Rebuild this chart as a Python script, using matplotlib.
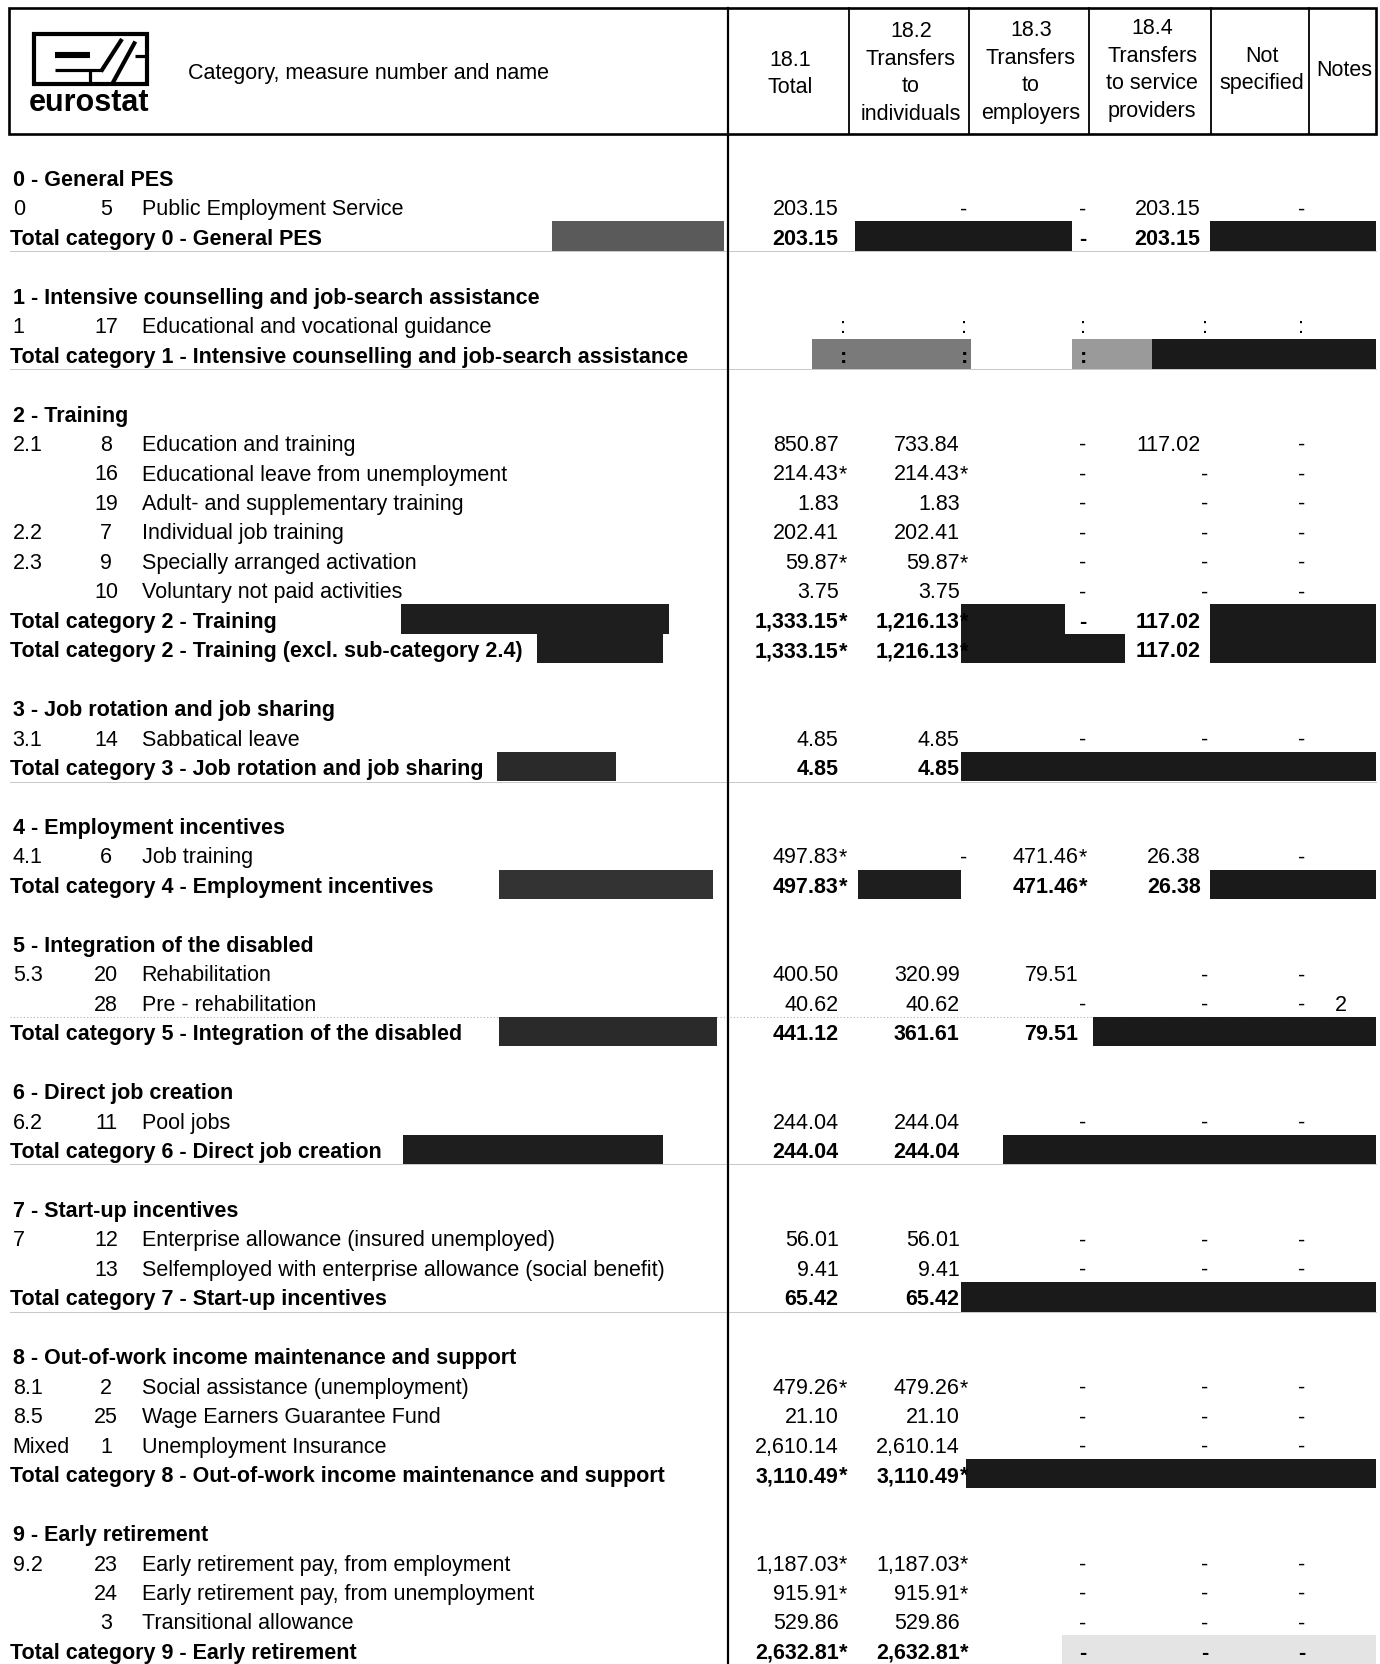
import matplotlib
matplotlib.use("Agg")
import matplotlib.pyplot as plt
from matplotlib.patches import Rectangle

plt.rcParams['font.family'] = ['Liberation Sans', 'DejaVu Sans']

# ---------------- data ----------------
col_headers = [["18.1", "Total"],
               ["18.2", "Transfers", "to", "individuals"],
               ["18.3", "Transfers", "to", "employers"],
               ["18.4", "Transfers", "to service", "providers"],
               ["Not", "specified"],
               ["Notes"]]
header_label = "Category, measure number and name"

labels = [
    "0 - General PES", "Public Employment Service", "Total category 0 - General PES", "",
    "1 - Intensive counselling and job-search assistance", "Educational and vocational guidance",
    "Total category 1 - Intensive counselling and job-search assistance", "",
    "2 - Training", "Education and training", "Educational leave from unemployment",
    "Adult- and supplementary training", "Individual job training", "Specially arranged activation",
    "Voluntary not paid activities", "Total category 2 - Training",
    "Total category 2 - Training (excl. sub-category 2.4)", "",
    "3 - Job rotation and job sharing", "Sabbatical leave", "Total category 3 - Job rotation and job sharing", "",
    "4 - Employment incentives", "Job training", "Total category 4 - Employment incentives", "",
    "5 - Integration of the disabled", "Rehabilitation", "Pre - rehabilitation",
    "Total category 5 - Integration of the disabled", "",
    "6 - Direct job creation", "Pool jobs", "Total category 6 - Direct job creation", "",
    "7 - Start-up incentives", "Enterprise allowance (insured unemployed)",
    "Selfemployed with enterprise allowance (social benefit)", "Total category 7 - Start-up incentives", "",
    "8 - Out-of-work income maintenance and support", "Social assistance (unemployment)",
    "Wage Earners Guarantee Fund", "Unemployment Insurance",
    "Total category 8 - Out-of-work income maintenance and support", "",
    "9 - Early retirement", "Early retirement pay, from employment", "Early retirement pay, from unemployment",
    "Transitional allowance", "Total category 9 - Early retirement",
]
codes = ["", "0", "", "",
         "", "1", "", "",
         "", "2.1", "", "", "2.2", "2.3", "", "", "", "",
         "", "3.1", "", "",
         "", "4.1", "", "",
         "", "5.3", "", "", "",
         "", "6.2", "", "",
         "", "7", "", "", "",
         "", "8.1", "8.5", "Mixed", "", "",
         "", "9.2", "", "", ""]
measures = ["", "5", "", "",
            "", "17", "", "",
            "", "8", "16", "19", "7", "9", "10", "", "", "",
            "", "14", "", "",
            "", "6", "", "",
            "", "20", "28", "", "",
            "", "11", "", "",
            "", "12", "13", "", "",
            "", "2", "25", "1", "", "",
            "", "23", "24", "3", ""]
v_total = ["", "203.15", "203.15", "",
           "", ":", ":", "",
           "", "850.87", "214.43*", "1.83", "202.41", "59.87*", "3.75", "1,333.15*", "1,333.15*", "",
           "", "4.85", "4.85", "",
           "", "497.83*", "497.83*", "",
           "", "400.50", "40.62", "441.12", "",
           "", "244.04", "244.04", "",
           "", "56.01", "9.41", "65.42", "",
           "", "479.26*", "21.10", "2,610.14", "3,110.49*", "",
           "", "1,187.03*", "915.91*", "529.86", "2,632.81*"]
v_indiv = ["", "-", "", "",
           "", ":", ":", "",
           "", "733.84", "214.43*", "1.83", "202.41", "59.87*", "3.75", "1,216.13*", "1,216.13*", "",
           "", "4.85", "4.85", "",
           "", "-", "", "",
           "", "320.99", "40.62", "361.61", "",
           "", "244.04", "244.04", "",
           "", "56.01", "9.41", "65.42", "",
           "", "479.26*", "21.10", "2,610.14", "3,110.49*", "",
           "", "1,187.03*", "915.91*", "529.86", "2,632.81*"]
v_empl = ["", "-", "-", "",
          "", ":", ":", "",
          "", "-", "-", "-", "-", "-", "-", "-", "", "",
          "", "-", "", "",
          "", "471.46*", "471.46*", "",
          "", "79.51", "-", "79.51", "",
          "", "-", "", "",
          "", "-", "-", "", "",
          "", "-", "-", "-", "", "",
          "", "-", "-", "-", "-"]
v_serv = ["", "203.15", "203.15", "",
          "", ":", "", "",
          "", "117.02", "-", "-", "-", "-", "-", "117.02", "117.02", "",
          "", "-", "", "",
          "", "26.38", "26.38", "",
          "", "-", "-", "", "",
          "", "-", "", "",
          "", "-", "-", "", "",
          "", "-", "-", "-", "", "",
          "", "-", "-", "-", "-"]
v_nspec = ["", "-", "", "",
           "", ":", "", "",
           "", "-", "-", "-", "-", "-", "-", "", "", "",
           "", "-", "", "",
           "", "-", "", "",
           "", "-", "-", "", "",
           "", "-", "", "",
           "", "-", "-", "", "",
           "", "-", "-", "-", "", "",
           "", "-", "-", "-", "-"]
notes = [""] * 28 + ["2"] + [""] * 22

# ---------------- layout ----------------
W, H = 1380, 1665
FS = 15.5
S = 1380 / 1300.0  # shown -> full scale

fig = plt.figure(figsize=(W / 100, H / 100), dpi=100)
ax = fig.add_axes([0, 0, 1, 1])
ax.set_xlim(0, W)
ax.set_ylim(H, 0)
ax.axis('off')

y0, dy = 178.3, 29.46
def yc(i):
    return y0 + dy * i
def yb(i):
    return yc(i) + 7.6

# header box
hx0, hx1, hy0, hy1 = 8.5, 1376, 8.5, 135
ax.add_patch(Rectangle((hx0, hy0), hx1 - hx0, hy1 - hy0, fill=False, lw=1.9, ec='black', zorder=4))
div_x = 728
ax.plot([div_x, div_x], [hy0, H], color='black', lw=1.6, zorder=4)
col_lines = [849, 969, 1089, 1211, 1309]
for x in col_lines:
    ax.plot([x, x], [hy0, hy1], color='black', lw=1.3, zorder=4)

# column headers
col_bounds = [div_x] + col_lines + [hx1]
mids = [72, 71, 70, 68, 68, 68]
for k, lines in enumerate(col_headers):
    cx = (col_bounds[k] + col_bounds[k + 1]) / 2 + 2
    n = len(lines)
    for j, t in enumerate(lines):
        y = mids[k] + (j - (n - 1) / 2) * 27.6
        ax.text(cx, y + 7.6, t, ha='center', va='baseline', fontsize=FS, zorder=5)
ax.text(188, 71 + 7.6, header_label, ha='left', va='baseline', fontsize=FS, zorder=5)

# logo (E/S mark in a box)
ax.add_patch(Rectangle((33.7, 35.3), 113.3, 50, fill=False, lw=3.0, ec='black', zorder=5))
logo_strokes = [((55.3, 55.7), (90.3, 55.7), 4.4),
                ((55.3, 71.3), (102.0, 71.3), 2.3),
                ((90.3, 71.3), (90.3, 85.3), 2.3),
                ((101.0, 72.5), (122.0, 40.0), 3.0),
                ((112.0, 85.3), (135.3, 42.5), 3.0),
                ((135.3, 57.0), (147.0, 57.0), 2.3)]
for (a, b, w) in logo_strokes:
    ax.plot([a[0], b[0]], [a[1], b[1]], color='black', lw=w, solid_capstyle='butt', zorder=5)
ax.text(89.5, 111, "eurostat", ha='center', va='baseline', fontsize=22, fontweight='bold', zorder=5)

# scan shading of total rows (shown-pixel spans)
shade = [(2, 520, 682, '#5a5a5a'), (2, 805, 1010, '#1a1a1a'), (2, 1140, 1296, '#1a1a1a'),
         (6, 765, 915, '#7a7a7a'), (6, 1010, 1085, '#9a9a9a'), (6, 1085, 1296, '#1a1a1a'),
         (15, 378, 630, '#1e1e1e'), (15, 905, 1003, '#1a1a1a'), (15, 1140, 1296, '#1a1a1a'),
         (16, 506, 625, '#1e1e1e'), (16, 905, 1060, '#1a1a1a'), (16, 1140, 1296, '#1a1a1a'),
         (20, 468, 580, '#2a2a2a'), (20, 905, 1296, '#1a1a1a'),
         (24, 470, 672, '#333333'), (24, 808, 905, '#1e1e1e'), (24, 1140, 1296, '#1a1a1a'),
         (29, 470, 675, '#2a2a2a'), (29, 1030, 1296, '#1a1a1a'),
         (33, 380, 625, '#1e1e1e'), (33, 945, 1296, '#1a1a1a'),
         (38, 905, 1296, '#1a1a1a'),
         (44, 910, 1296, '#1a1a1a'),
         (50, 1000, 1296, '#e4e4e4')]
for (i, a, b, c) in shade:
    ax.add_patch(Rectangle((a * S, yc(i) - 14.8), (b - a) * S, 29.6, color=c, lw=0, zorder=1))

# faint rules under some totals
for i in [2, 6, 20, 33, 38, 50]:
    ax.plot([10, 1376], [yc(i) + 15, yc(i) + 15], color='#c8c8c8', lw=0.7, zorder=0)
ax.plot([10, 1376], [yc(29) - 15, yc(29) - 15], color='#b0b0b0', lw=0.8, ls=(0, (1, 2)), zorder=0)

# left text
x_code, x_meas, x_name = 12.7, 106, 141.5
for i, lab in enumerate(labels):
    if not lab:
        continue
    if lab.startswith("Total"):
        ax.text(10.5, yb(i), lab, ha='left', va='baseline', fontsize=FS, fontweight='bold', zorder=5)
    elif lab[0].isdigit():
        ax.text(12.7, yb(i), lab, ha='left', va='baseline', fontsize=FS, fontweight='bold', zorder=5)
    else:
        ax.text(x_code, yb(i), codes[i], ha='left', va='baseline', fontsize=FS, zorder=5)
        ax.text(x_meas, yb(i), measures[i], ha='center', va='baseline', fontsize=FS, zorder=5)
        ax.text(x_name, yb(i), lab, ha='left', va='baseline', fontsize=FS, zorder=5)

# numeric columns
anchors = [838.6, 959.6, 1078.5, 1200.6, 1297.0]
columns = [v_total, v_indiv, v_empl, v_serv, v_nspec]
for ax_x, col in zip(anchors, columns):
    for i, v in enumerate(col):
        if not v:
            continue
        bold = labels[i].startswith("Total")
        fw = 'bold' if bold else 'normal'
        if v in ("-", ":"):
            ax.text(ax_x + 4.5, yb(i), v, ha='center', va='baseline', fontsize=FS, fontweight=fw, zorder=5)
        else:
            num = v.rstrip('*')
            ax.text(ax_x, yb(i), num, ha='right', va='baseline', fontsize=FS, fontweight=fw, zorder=5)
            if v.endswith('*'):
                ax.text(ax_x + 0.5, yb(i), '*', ha='left', va='baseline', fontsize=FS, fontweight=fw, zorder=5)
for i, v in enumerate(notes):
    if v:
        ax.text(1340.6, yb(i), v, ha='center', va='baseline', fontsize=FS, zorder=5)

fig.savefig("out.png", dpi=100)
